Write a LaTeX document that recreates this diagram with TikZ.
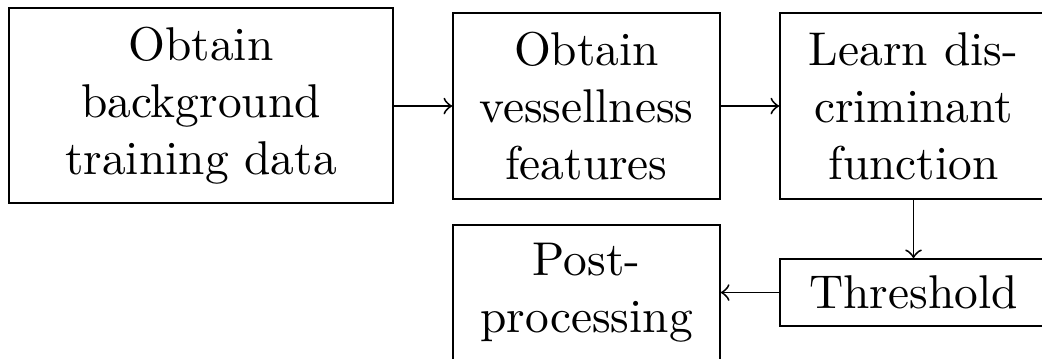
\documentclass[tikz,border=0pt]{standalone}
\usetikzlibrary{calc}
\begin{document}
\begin{tikzpicture}[x=0.2110pt,y=-0.2110pt,
  stepbox/.style={draw,line width=0.4pt,align=center,inner sep=0pt,
    minimum width=#1},
  flow/.style={->,line width=0.4pt}]
\useasboundingbox (0,0) rectangle (1042,358);
\clip (0,0) rectangle (1042,358);
\node[stepbox=81.0pt,minimum height=41.1pt] (bg) at (201,105.5)
  {Obtain\\background\\training data};
\node[stepbox=56.3pt,minimum height=39.2pt] (vf) at (586.5,106)
  {Obtain\\vessellness\\features};
\node[stepbox=56.3pt,minimum height=39.2pt] (df) at (913.5,106)
  {Learn dis-\\criminant\\function};
\node[stepbox=56.3pt,minimum height=14.1pt] (th) at (913.5,292.5)
  {Threshold};
\node[stepbox=56.3pt,minimum height=28.5pt] (pp) at (586.5,292.5)
  {Post-\\processing};
\draw[flow] (bg.east |- vf.west) -- (vf.west);
\draw[flow] (vf.east) -- (df.west);
\draw[flow] (df.south) -- (th.north);
\draw[flow] (th.west) -- (pp.east);
\end{tikzpicture}
\end{document}
